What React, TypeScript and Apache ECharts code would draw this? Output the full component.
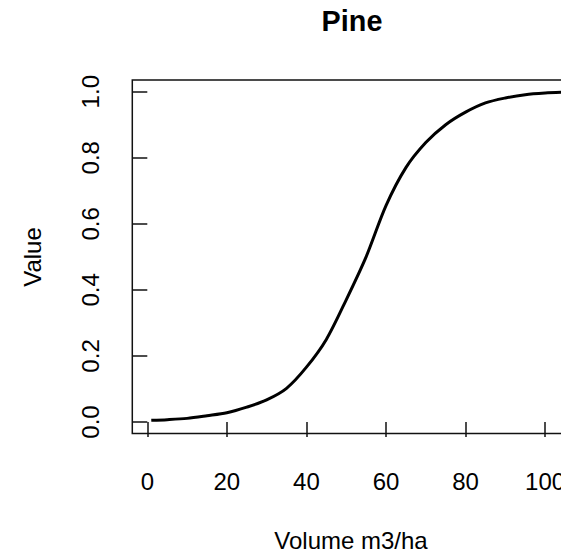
import React, { useEffect, useRef } from "react";
import * as echarts from "echarts";

const volume = [1, 5, 10, 15, 20, 25, 30, 35, 40, 45, 50, 55, 60, 65, 70, 75, 80, 85, 90, 95, 100, 104];
const value = [0.005, 0.007, 0.011, 0.019, 0.028, 0.045, 0.067, 0.102, 0.166, 0.25, 0.37, 0.5, 0.655, 0.77, 0.846, 0.9, 0.938, 0.966, 0.981, 0.991, 0.996, 0.998];
const xTicks = [0, 20, 40, 60, 80, 100];
const yTicks = [0, 0.2, 0.4, 0.6, 0.8, 1.0];
const titleText = "Pine";
const xTitle = "Volume m3/ha";
const yTitle = "Value";

const FONT = "'Liberation Sans', Arial, sans-serif";

export default function App() {
  const ref = useRef<HTMLDivElement>(null);
  useEffect(() => {
    if (!ref.current) return;
    const chart = echarts.init(ref.current, null, { renderer: "svg" });
    const data = volume.map((v, i) => [v, value[i]]);
    chart.setOption({
      animation: false,
      backgroundColor: "#ffffff",
      grid: {
        left: 132.3,
        right: -10,
        top: 80,
        bottom: 120.5,
        containLabel: false,
        outerBoundsMode: "none",
        show: true,
        borderColor: "#111",
        borderWidth: 1.5,
        backgroundColor: "transparent",
      },
      xAxis: {
        type: "value",
        min: -3.77,
        max: 106.5,
        axisLine: { show: false },
        axisTick: { show: true, length: 15, customValues: xTicks, lineStyle: { color: "#111", width: 1.5 } },
        splitLine: { show: false },
        axisLabel: {
          color: "#000",
          fontSize: 24,
          fontFamily: FONT,
          margin: 36,
          customValues: xTicks,
          hideOverlap: false,
        },
      },
      yAxis: {
        type: "value",
        min: -0.0348,
        max: 1.0354,
        axisLine: { show: false },
        axisTick: { show: true, length: 15, customValues: yTicks, lineStyle: { color: "#111", width: 1.5 } },
        splitLine: { show: false },
        axisLabel: {
          color: "#000",
          fontSize: 24,
          fontFamily: FONT,
          rotate: 90,
          margin: 30,
          customValues: yTicks,
          formatter: (v: number) => v.toFixed(1),
        },
      },
      graphic: [
        {
          type: "text",
          x: 352,
          y: 21,
          style: { text: titleText, font: `bold 28.8px ${FONT}`, fill: "#000", align: "center", verticalAlign: "middle" },
        },
        {
          type: "text",
          x: 351,
          y: 540,
          style: { text: xTitle, font: `24px ${FONT}`, fill: "#000", align: "center", verticalAlign: "middle" },
        },
        {
          type: "text",
          x: 32,
          y: 257,
          rotation: Math.PI / 2,
          style: { text: yTitle, font: `24px ${FONT}`, fill: "#000", align: "center", verticalAlign: "middle" },
        },
      ],
      series: [
        {
          type: "line",
          data,
          showSymbol: false,
          smooth: 0.3,
          lineStyle: { color: "#000", width: 3 },
        },
      ],
    });
    return () => chart.dispose();
  }, []);
  return <div ref={ref} style={{ position: "fixed", left: 0, top: 0, width: 561, height: 554 }} />;
}
